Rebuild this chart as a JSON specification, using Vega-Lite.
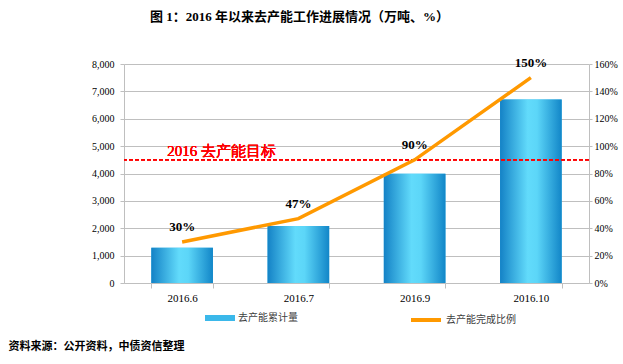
{
  "$schema": "https://vega.github.io/schema/vega-lite/v6.json",
  "autosize": "none",
  "width": 465,
  "height": 219,
  "padding": {"left": 124, "top": 64, "right": 34, "bottom": 81},
  "background": "white",
  "title": {
    "text": "图 1：2016 年以来去产能工作进展情况（万吨、%）",
    "anchor": "start",
    "frame": "group",
    "dx": 26,
    "offset": 33,
    "font": "Liberation Serif, Noto Sans CJK SC",
    "fontSize": 13,
    "fontWeight": "bold",
    "color": "#000000"
  },
  "data": {
    "values": [
      {"cat": "2016.6", "val": 1290, "pct": 30, "lab": "30%"},
      {"cat": "2016.7", "val": 2080, "pct": 47, "lab": "47%"},
      {"cat": "2016.9", "val": 3990, "pct": 90, "lab": "90%"},
      {"cat": "2016.10", "val": 6700, "pct": 150, "lab": "150%"}
    ]
  },
  "layer": [
    {
      "layer": [
        {
          "mark": {"type": "bar"},
          "encoding": {
            "x": {
              "field": "cat",
              "type": "nominal",
              "sort": null,
              "scale": {"paddingInner": 0.47, "paddingOuter": 0.235},
              "axis": {
                "labelAngle": 0,
                "labelFont": "Liberation Serif",
                "labelFontSize": 11,
                "labelColor": "#000000",
                "labelPadding": 4,
                "tickBand": "extent",
                "tickSize": 5,
                "tickColor": "#bfbfbf",
                "domainColor": "#bfbfbf",
                "title": "资料来源：公开资料，中债资信整理",
                "titleFont": "Noto Sans CJK SC",
                "titleFontSize": 11,
                "titleFontWeight": "bold",
                "titleColor": "#000000",
                "titleAnchor": "start",
                "titleAlign": "left",
                "titleBaseline": "alphabetic",
                "titleX": -116,
                "titleY": 66
              }
            },
            "y": {
              "field": "val",
              "type": "quantitative",
              "scale": {"domain": [0, 8000], "nice": false},
              "axis": {
                "orient": "left",
                "values": [0, 1000, 2000, 3000, 4000, 5000, 6000, 7000, 8000],
                "format": ",d",
                "labelFont": "Liberation Serif",
                "labelFontSize": 10,
                "labelColor": "#000000",
                "labelPadding": 6,
                "tickSize": 4,
                "tickColor": "#bfbfbf",
                "domainColor": "#bfbfbf",
                "grid": true,
                "gridColor": "#bfbfbf",
                "title": null
              }
            },
            "fill": {
              "datum": "去产能累计量",
              "type": "nominal",
              "scale": {"range": ["#3bb8ea"]},
              "legend": {
                "orient": "none",
                "legendX": 81,
                "legendY": 239,
                "title": null,
                "symbolType": "M-1,-0.2H1V0.2H-1Z",
                "symbolSize": 900,
                "symbolStrokeWidth": 0,
                "labelFont": "Noto Sans CJK SC",
                "labelFontSize": 10,
                "labelColor": "#404040",
                "labelOffset": 3
              }
            }
          }
        },
        {
          "mark": {
            "type": "bar",
            "fill": {
              "gradient": "linear",
              "x1": 0, "y1": 0, "x2": 1, "y2": 0,
              "stops": [
                {"offset": 0, "color": "#1482c6"},
                {"offset": 0.45, "color": "#62dbfb"},
                {"offset": 0.6, "color": "#5cd6f8"},
                {"offset": 1, "color": "#1286c8"}
              ]
            }
          },
          "encoding": {
            "x": {"field": "cat", "type": "nominal", "sort": null},
            "y": {
              "field": "val",
              "type": "quantitative",
              "axis": {
                "orient": "left",
                "values": [0, 1000, 2000, 3000, 4000, 5000, 6000, 7000, 8000],
                "format": ",d",
                "labelFont": "Liberation Serif",
                "labelFontSize": 10,
                "labelColor": "#000000",
                "labelPadding": 6,
                "tickSize": 4,
                "tickColor": "#bfbfbf",
                "domainColor": "#bfbfbf",
                "grid": true,
                "gridColor": "#bfbfbf",
                "title": null
              }
            }
          }
        },
        {
          "mark": {"type": "rule", "color": "#ff0000", "strokeDash": [4, 2], "strokeWidth": 1.2},
          "encoding": {
            "y": {
              "datum": 4500,
              "type": "quantitative",
              "axis": {
                "orient": "left",
                "values": [0, 1000, 2000, 3000, 4000, 5000, 6000, 7000, 8000],
                "format": ",d",
                "labelFont": "Liberation Serif",
                "labelFontSize": 10,
                "labelColor": "#000000",
                "labelPadding": 6,
                "tickSize": 4,
                "tickColor": "#bfbfbf",
                "domainColor": "#bfbfbf",
                "grid": true,
                "gridColor": "#bfbfbf",
                "title": null
              }
            }
          }
        },
        {
          "mark": {
            "type": "text",
            "text": "2016 去产能目标",
            "align": "left",
            "baseline": "alphabetic",
            "dx": -15,
            "dy": -4,
            "font": "Liberation Serif",
            "fontSize": 15,
            "fontWeight": "normal",
            "color": "#ff0000"
          },
          "encoding": {
            "x": {"datum": "2016.6", "type": "nominal"},
            "y": {
              "datum": 4500,
              "type": "quantitative",
              "axis": {
                "orient": "left",
                "values": [0, 1000, 2000, 3000, 4000, 5000, 6000, 7000, 8000],
                "format": ",d",
                "labelFont": "Liberation Serif",
                "labelFontSize": 10,
                "labelColor": "#000000",
                "labelPadding": 6,
                "tickSize": 4,
                "tickColor": "#bfbfbf",
                "domainColor": "#bfbfbf",
                "grid": true,
                "gridColor": "#bfbfbf",
                "title": null
              }
            }
          }
        }
      ]
    },
    {
      "layer": [
        {
          "mark": {"type": "line", "strokeWidth": 3.5},
          "encoding": {
            "x": {"field": "cat", "type": "nominal", "sort": null},
            "y": {
              "field": "pct",
              "type": "quantitative",
              "scale": {"domain": [0, 160], "nice": false},
              "axis": {
                "orient": "right",
                "values": [0, 20, 40, 60, 80, 100, 120, 140, 160],
                "labelExpr": "datum.value + '%'",
                "labelFont": "Liberation Serif",
                "labelFontSize": 10,
                "labelColor": "#000000",
                "labelPadding": 2,
                "tickSize": 3,
                "tickColor": "#bfbfbf",
                "domainColor": "#bfbfbf",
                "grid": false,
                "title": null
              }
            },
            "stroke": {
              "datum": "去产能完成比例",
              "type": "nominal",
              "scale": {"range": ["#ff9900"]},
              "legend": {
                "orient": "none",
                "legendX": 285,
                "legendY": 239,
                "title": null,
                "symbolType": "stroke",
                "symbolSize": 900,
                "symbolStrokeWidth": 4,
                "labelFont": "Noto Sans CJK SC",
                "labelFontSize": 10,
                "labelColor": "#404040",
                "labelOffset": 3
              }
            }
          }
        },
        {
          "mark": {
            "type": "text",
            "dy": -15,
            "font": "Liberation Serif",
            "fontSize": 13,
            "fontWeight": "bold",
            "color": "#000000"
          },
          "encoding": {
            "x": {"field": "cat", "type": "nominal", "sort": null},
            "y": {
              "field": "pct",
              "type": "quantitative",
              "axis": {
                "orient": "right",
                "values": [0, 20, 40, 60, 80, 100, 120, 140, 160],
                "labelExpr": "datum.value + '%'",
                "labelFont": "Liberation Serif",
                "labelFontSize": 10,
                "labelColor": "#000000",
                "labelPadding": 2,
                "tickSize": 3,
                "tickColor": "#bfbfbf",
                "domainColor": "#bfbfbf",
                "grid": false,
                "title": null
              }
            },
            "text": {"field": "lab"}
          }
        }
      ]
    }
  ],
  "resolve": {"scale": {"y": "independent"}},
  "config": {"view": {"stroke": null}}
}
